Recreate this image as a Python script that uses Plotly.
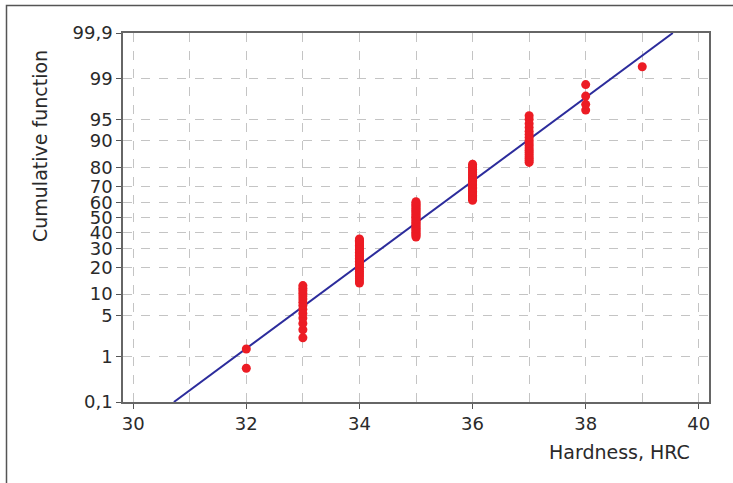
from statistics import NormalDist
import plotly.graph_objects as go

# Hardness values (HRC) and cumulative percentages
hardness_32 = [0.58, 1.38]
hardness_33 = [2.2, 3.0, 3.8, 4.6, 5.4, 6.2, 7.0, 7.8, 8.6, 9.4, 10.2, 11.0, 11.8, 12.7]
hardness_34 = [13.6, 14.4, 15.2, 16.0, 16.8, 17.6, 18.4, 19.2, 20.0, 20.8, 21.6, 22.4,
               23.2, 24.0, 24.8, 25.6, 26.4, 27.2, 28.0, 28.8, 29.6, 30.4, 31.2, 32.0,
               32.8, 33.6, 34.4, 35.2, 36.0]
hardness_35 = [37.2, 38.0, 38.8, 39.6, 40.4, 41.2, 42.0, 42.8, 43.6, 44.4, 45.2, 46.0,
               46.8, 47.6, 48.4, 49.2, 50.0, 50.8, 51.6, 52.4, 53.2, 54.0, 54.8, 55.6,
               56.4, 57.2, 58.0, 58.8, 59.6, 60.4]
hardness_36 = [61.4, 62.2, 63.0, 63.8, 64.6, 65.4, 66.2, 67.0, 67.8, 68.6, 69.4, 70.2,
               71.0, 71.8, 72.6, 73.4, 74.2, 75.0, 75.8, 76.6, 77.4, 78.2, 79.0, 79.8,
               80.6, 81.4]
hardness_37 = [82.2, 83.0, 83.8, 84.6, 85.4, 86.2, 87.0, 87.8, 88.6, 89.4, 90.2, 91.0,
               91.8, 92.6, 93.4, 94.2, 95.0, 95.6]
hardness_38 = [96.4, 97.1, 97.9, 98.7]
hardness_39 = [99.42]

groups = {32: hardness_32, 33: hardness_33, 34: hardness_34, 35: hardness_35,
          36: hardness_36, 37: hardness_37, 38: hardness_38, 39: hardness_39}

# Fitted normal line end points (hardness, cumulative %)
line_x = [30.72, 39.54]
line_p = [0.1, 99.9]

# Probability-axis ticks
y_ticks = [0.1, 1, 5, 10, 20, 30, 40, 50, 60, 70, 80, 90, 95, 99, 99.9]
y_tick_labels = ["0,1", "1", "5", "10", "20", "30", "40", "50", "60", "70", "80",
                 "90", "95", "99", "99,9"]

nd = NormalDist()


def probit(p):
    return nd.inv_cdf(p / 100.0)


pts_x, pts_y = [], []
for h, vals in groups.items():
    for v in vals:
        pts_x.append(h)
        pts_y.append(probit(v))

fig = go.Figure()
fig.add_trace(go.Scatter(
    x=line_x, y=[probit(p) for p in line_p], mode="lines",
    line=dict(color="#2c2c9c", width=2), hoverinfo="skip", showlegend=False))
fig.add_trace(go.Scatter(
    x=pts_x, y=pts_y, mode="markers",
    marker=dict(color="#ec1c24", size=9, line=dict(width=0)),
    showlegend=False, cliponaxis=False))

font_col = "#2a2a2a"
grid_col = "#c4c4c4"
ylim = probit(99.9)
tick_size = 18
title_size = 19

fig.update_layout(
    width=733, height=483,
    margin=dict(l=123, r=24, t=33, b=81),
    paper_bgcolor="white", plot_bgcolor="white",
    font=dict(family="DejaVu Sans", size=tick_size, color=font_col),
    xaxis=dict(
        range=[29.82, 40.18], tickmode="array", tickvals=[30, 32, 34, 36, 38, 40],
        ticks="outside", ticklen=5, tickcolor="#555555", tickwidth=1,
        showline=True, linecolor="#666666", linewidth=1.5, mirror=True,
        showgrid=True, gridcolor=grid_col, griddash="dash", gridwidth=1,
        minor=dict(tickmode="array", tickvals=[31, 33, 35, 37, 39], showgrid=True,
                   gridcolor=grid_col, griddash="dash", gridwidth=1, ticks=""),
        zeroline=False, tickfont=dict(size=tick_size, color=font_col),
    ),
    yaxis=dict(
        range=[-ylim, ylim], tickmode="array",
        tickvals=[probit(p) for p in y_ticks], ticktext=y_tick_labels,
        ticks="outside", ticklen=5, tickcolor="#555555", tickwidth=1,
        showline=True, linecolor="#666666", linewidth=1.5, mirror=True,
        showgrid=True, gridcolor=grid_col, griddash="dash", gridwidth=1,
        zeroline=False, tickfont=dict(size=tick_size, color=font_col),
    ),
    shapes=[dict(type="rect", xref="paper", yref="paper",
                 x0=(6.5 - 123) / 586, x1=(745 - 123) / 586,
                 y0=(402 - 495) / 369, y1=(402 - 5.5) / 369,
                 line=dict(color="#555555", width=1.5), layer="below")],
    annotations=[
        dict(text="Cumulative function", xref="paper", yref="paper",
             x=(40 - 123) / 586, y=(402 - 146) / 369, textangle=-90,
             showarrow=False, xanchor="center", yanchor="middle",
             font=dict(size=title_size, color=font_col)),
        dict(text="Hardness, HRC", xref="paper", yref="paper",
             x=(692 - 123) / 586, y=(402 - 452) / 369,
             showarrow=False, xanchor="right", yanchor="middle",
             font=dict(size=title_size, color=font_col)),
    ],
)

fig.write_html("out.html", config={"displayModeBar": False},
               post_script="document.body.style.margin='0px';")
